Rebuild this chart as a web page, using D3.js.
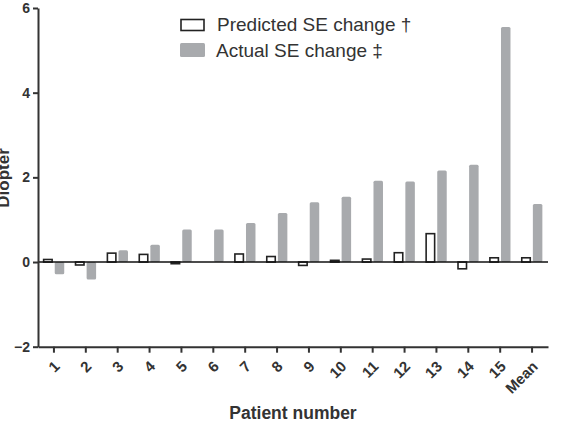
<!DOCTYPE html>
<html>
<head>
<meta charset="utf-8">
<script src="https://cdn.jsdelivr.net/npm/d3@7"></script>
<style>
  body { margin: 0; background: #fff; }
  text { font-family: "Liberation Sans", Arial, sans-serif; }
</style>
</head>
<body>
<svg id="chart" width="572" height="429"></svg>
<script>
// data
const patients = ["1", "2", "3", "4", "5", "6", "7", "8", "9", "10", "11", "12", "13", "14", "15", "Mean"];
const predicted = [0.06, -0.07, 0.21, 0.18, -0.04, 0, 0.19, 0.13, -0.08, 0.04, 0.07, 0.22, 0.67, -0.16, 0.1, 0.1];
const actual = [-0.29, -0.41, 0.28, 0.41, 0.77, 0.77, 0.92, 1.16, 1.41, 1.54, 1.92, 1.9, 2.16, 2.3, 5.55, 1.37];
const yTicks = [-2, 0, 2, 4, 6];

const svg = d3.select("#chart");
const axisColor = "#333";
const grayFill = "#a8aaad";

// scales
const x = d3.scaleBand().domain(patients).range([38, 548]).padding(0);
const y = d3.scaleLinear().domain([-2, 6]).range([346.7, 8]);

const barW = 9.5;

// actual bars (gray)
svg.append("g")
  .selectAll("rect")
  .data(patients)
  .enter()
  .append("rect")
  .attr("x", (d) => x(d) + x.bandwidth() / 2 + 0.8)
  .attr("width", barW)
  .attr("y", (d, i) => y(Math.max(0, actual[i])))
  .attr("height", (d, i) => Math.abs(y(actual[i]) - y(0)))
  .attr("rx", 1.5)
  .attr("fill", grayFill);

// predicted bars (outlined)
svg.append("g")
  .selectAll("rect")
  .data(patients)
  .enter()
  .filter((d, i) => predicted[i] != 0)
  .append("rect")
  .attr("x", (d) => x(d) + x.bandwidth() / 2 - barW - 0.8)
  .attr("width", barW - 1)
  .attr("y", function (d) {
    const v = predicted[patients.indexOf(d)];
    return y(Math.max(0, v));
  })
  .attr("height", function (d) {
    const v = predicted[patients.indexOf(d)];
    return Math.abs(y(v) - y(0));
  })
  .attr("fill", "#fff")
  .attr("stroke", "#222")
  .attr("stroke-width", 1.6);

// zero line
svg.append("line")
  .attr("x1", 38)
  .attr("x2", 548)
  .attr("y1", y(0))
  .attr("y2", y(0))
  .attr("stroke", "#111")
  .attr("stroke-width", 1.6);

// y axis
const yAxis = svg.append("g")
  .attr("transform", "translate(38,0)")
  .call(d3.axisLeft(y).tickValues(yTicks).tickSize(5).tickSizeOuter(0).tickPadding(3));
yAxis.select(".domain").attr("stroke", axisColor).attr("stroke-width", 2);
yAxis.selectAll(".tick line").attr("stroke", axisColor).attr("stroke-width", 2);
yAxis.selectAll("text")
  .attr("fill", axisColor)
  .style("font-size", "14px")
  .style("font-weight", "bold");

// x axis
const xAxis = svg.append("g")
  .attr("transform", "translate(0," + y(-2) + ")")
  .call(d3.axisBottom(x).tickSize(6).tickSizeOuter(0));
xAxis.select(".domain").attr("stroke", axisColor).attr("stroke-width", 2);
xAxis.selectAll(".tick line").attr("stroke", axisColor).attr("stroke-width", 2);
xAxis.selectAll("text")
  .attr("fill", axisColor)
  .attr("x", 0)
  .attr("y", 0)
  .attr("dy", "0.35em")
  .style("font-size", "15px")
  .style("font-weight", "bold")
  .attr("transform", "translate(3,17)rotate(-45)")
  .style("text-anchor", "end");

// axis titles
svg.append("text")
  .attr("x", 293)
  .attr("y", 419)
  .attr("text-anchor", "middle")
  .attr("fill", axisColor)
  .style("font-size", "17.5px")
  .style("font-weight", "bold")
  .text("Patient number");

svg.append("text")
  .attr("transform", "translate(9,178)rotate(-90)")
  .attr("text-anchor", "middle")
  .attr("fill", axisColor)
  .style("font-size", "17px")
  .style("font-weight", "bold")
  .text("Diopter");

// legend
const legend = svg.append("g");
legend.append("rect")
  .attr("x", 181).attr("y", 19.5)
  .attr("width", 23).attr("height", 11)
  .attr("fill", "#fff").attr("stroke", "#222").attr("stroke-width", 1.6);
legend.append("rect")
  .attr("x", 180).attr("y", 43)
  .attr("width", 25).attr("height", 14)
  .attr("rx", 1.5)
  .attr("fill", grayFill);
legend.append("text")
  .attr("x", 217).attr("y", 31)
  .attr("fill", "#333")
  .style("font-size", "19px")
  .text("Predicted SE change †");
legend.append("text")
  .attr("x", 216).attr("y", 57)
  .attr("fill", "#333")
  .style("font-size", "19px")
  .text("Actual SE change ‡");
</script>
</body>
</html>
